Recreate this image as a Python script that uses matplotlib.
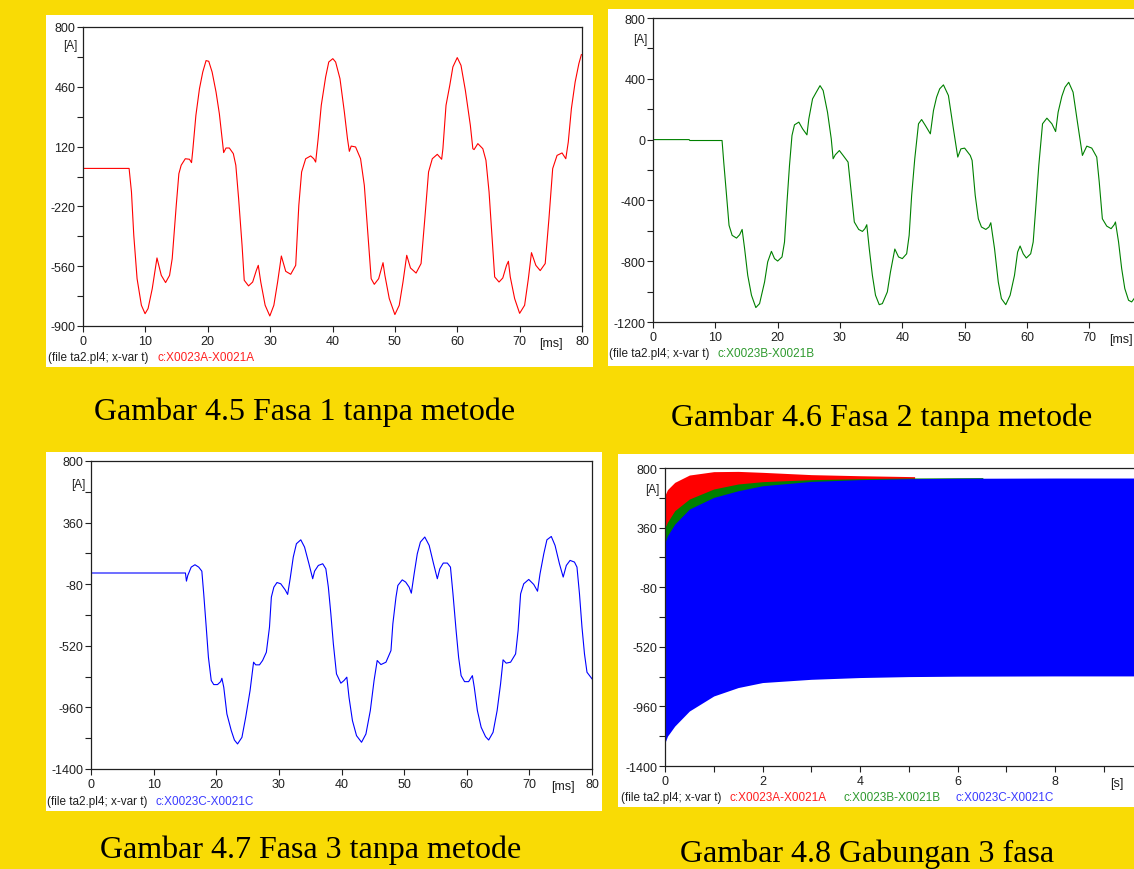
import numpy as np
import matplotlib.pyplot as plt
from matplotlib.patches import Rectangle

plt.rcParams['axes.unicode_minus'] = False
plt.rcParams['font.family'] = ['Liberation Sans', 'DejaVu Sans']

W, H = 1134, 870
BG = '#F9DB05'

# phase A current, (t [ms], i [A])
phase_a = [(0, -4), (7.39, -4), (7.77, -138), (8.14, -384), (8.67, -631), (9.36, -782),
           (9.95, -830), (10.43, -801), (11.1, -688), (11.86, -513), (12.55, -612), (13.24, -653),
           (13.88, -612), (14.3, -517), (14.95, -214), (15.37, -34), (15.74, 14), (16.4, 51),
           (17.07, 48), (17.4, 29), (17.6, 99), (18.1, 298), (18.67, 449), (19.2, 544),
           (19.73, 609), (20.16, 605), (20.7, 544), (21.33, 430), (21.86, 307), (22.3, 165),
           (22.55, 86), (22.93, 112), (23.46, 112), (24.1, 80), (24.5, 14), (24.95, -176),
           (25.5, -441), (25.85, -640), (26.54, -672), (27.2, -650), (27.8, -583), (28.1, -555),
           (28.5, -650), (29.2, -782), (29.95, -843), (30.6, -782), (31.2, -650), (31.8, -502),
           (32.5, -589), (33.3, -606), (34.1, -555), (34.6, -214), (35.05, -24), (35.7, 51),
           (36.5, 67), (37.0, 51), (37.3, 32), (37.7, 165), (38.2, 355), (38.9, 516),
           (39.4, 601), (40.05, 620), (40.5, 601), (41.2, 506), (41.9, 317), (42.4, 165),
           (42.7, 93), (43.0, 123), (43.7, 118), (44.5, 51), (45.1, -100), (45.65, -365),
           (46.2, -631), (46.7, -663), (47.4, -631), (48.1, -540), (48.4, -612), (49.1, -744),
           (50.0, -835), (50.7, -782), (51.3, -650), (51.9, -498), (52.5, -570), (53.4, -599),
           (54.2, -545), (54.8, -290), (55.4, -24), (56.0, 51), (56.8, 76), (57.5, 48),
           (57.7, 108), (58.2, 355), (58.8, 468), (59.3, 573), (60.0, 626), (60.6, 582),
           (61.3, 440), (62.1, 241), (62.5, 108), (62.7, 103), (63.3, 137), (64.1, 108),
           (64.6, 42), (65.1, -138), (65.6, -403), (66.0, -621), (66.7, -650), (67.3, -627),
           (67.9, -555), (68.2, -532), (68.5, -621), (69.2, -744), (70.0, -828), (70.8, -782),
           (71.4, -631), (71.9, -483), (72.6, -555), (73.3, -585), (74.1, -545), (74.7, -290),
           (75.3, -5), (76.0, 70), (76.8, 84), (77.4, 51), (77.8, 146), (78.3, 336),
           (78.9, 487), (79.5, 592), (79.9, 643)]

# phase B current, figure 4.6
phase_b = [(0, 0), (5.8, 0), (5.9, -6), (11.08, -6), (11.35, -148), (11.8, -367), (12.2, -564),
           (12.7, -630), (13.4, -648), (13.9, -626), (14.3, -591), (14.7, -718), (15.2, -893),
           (15.8, -1024), (16.5, -1105), (17.1, -1079), (17.9, -937), (18.4, -805), (19.0, -735),
           (19.5, -783), (20.0, -799), (20.7, -772), (21.1, -674), (21.5, -411), (21.9, -170),
           (22.3, 27), (22.7, 97), (23.4, 115), (24.0, 71), (24.7, 31), (25.0, 136),
           (25.6, 268), (26.2, 312), (26.8, 355), (27.3, 323), (28.0, 180), (28.6, 5),
           (28.9, -126), (29.25, -100), (29.9, -72), (30.5, -104), (31.3, -148), (31.8, -345),
           (32.3, -542), (33.0, -591), (33.6, -604), (34.0, -586), (34.3, -560), (34.7, -718),
           (35.2, -893), (35.7, -1024), (36.3, -1086), (36.8, -1079), (37.6, -1002), (38.1, -871),
           (38.8, -720), (39.4, -772), (40.0, -783), (40.7, -751), (41.1, -630), (41.5, -367),
           (42.0, -126), (42.6, 104), (43.1, 132), (43.7, 93), (44.5, 38), (45.0, 191),
           (45.5, 279), (46.0, 334), (46.6, 360), (47.4, 290), (48.2, 71), (48.9, -115),
           (49.4, -61), (50.0, -56), (50.9, -104), (51.2, -137), (51.7, -367), (52.2, -521),
           (52.7, -575), (53.4, -591), (53.9, -575), (54.2, -547), (54.8, -718), (55.4, -937),
           (55.9, -1046), (56.6, -1086), (57.3, -1024), (58.0, -893), (58.5, -740), (58.9, -700),
           (59.4, -751), (59.9, -779), (60.6, -751), (61.0, -674), (61.4, -455), (61.9, -170),
           (62.5, 104), (63.2, 141), (64.0, 104), (64.6, 53), (65.0, 180), (65.6, 285),
           (66.1, 344), (66.7, 377), (67.4, 312), (68.1, 115), (68.9, -104), (69.6, -43),
           (70.4, -56), (71.2, -115), (71.6, -280), (72.1, -521), (72.8, -569), (73.5, -586),
           (74.0, -560), (74.2, -542), (74.7, -674), (75.2, -849), (75.7, -980), (76.3, -1057),
           (76.8, -1068), (77.3, -1040)]

# phase C current, figure 4.7
phase_c = [(0, 0), (15.08, 0), (15.24, -58), (15.45, -18), (16.0, 42), (16.6, 59), (17.2, 42),
           (17.7, 13), (18.0, -149), (18.4, -387), (18.75, -602), (19.2, -768), (19.6, -797),
           (20.2, -797), (20.7, -776), (20.9, -752), (21.2, -816), (21.7, -1007), (22.4, -1126),
           (22.9, -1193), (23.4, -1221), (24.1, -1174), (24.7, -1031), (25.4, -840), (25.96, -637),
           (26.3, -656), (26.9, -656), (27.4, -625), (28.0, -566), (28.5, -387), (28.8, -172),
           (29.2, -101), (29.7, -68), (30.3, -77), (31.0, -120), (31.4, -153), (31.8, -41),
           (32.3, 114), (32.8, 209), (33.5, 237), (34.1, 185), (34.8, 66), (35.4, -41),
           (35.7, 13), (36.3, 54), (37.0, 66), (37.5, 30), (37.9, -101), (38.3, -292),
           (38.7, -506), (39.2, -721), (39.9, -787), (40.4, -768), (40.85, -744), (41.2, -888),
           (41.75, -1055), (42.4, -1162), (43.2, -1209), (43.9, -1150), (44.6, -983), (45.2, -768),
           (45.7, -625), (46.3, -654), (47.1, -637), (47.9, -554), (48.2, -363), (48.7, -172),
           (49.0, -89), (49.7, -49), (50.25, -65), (50.8, -101), (51.15, -144), (51.6, -6),
           (52.1, 137), (52.6, 221), (53.3, 257), (54.0, 197), (54.7, 66), (55.3, -41),
           (55.7, 30), (56.25, 71), (56.9, 71), (57.4, 42), (57.8, -149), (58.3, -411),
           (58.7, -602), (59.1, -733), (59.65, -776), (60.3, -776), (60.9, -733), (61.2, -816),
           (61.7, -983), (62.3, -1102), (63.0, -1169), (63.5, -1193), (64.2, -1138), (64.85, -983),
           (65.4, -792), (65.8, -620), (66.3, -644), (67.0, -637), (67.8, -578), (68.2, -411),
           (68.6, -149), (69.1, -77), (69.9, -46), (70.7, -82), (71.3, -130), (71.7, -6),
           (72.3, 137), (72.8, 237), (73.5, 261), (74.1, 197), (74.8, 66), (75.4, -29),
           (75.9, 54), (76.5, 90), (77.2, 78), (77.6, 42), (78.0, -149), (78.4, -387),
           (78.8, -578), (79.2, -709), (80.0, -756)]

# figure 4.8: envelopes of the 3 phases over 10 s (t [s])
env_t_a = [0, 0.05, 0.2, 0.5, 1.0, 1.5, 2.0, 3.0, 4.0, 5.12]
env_up_a = [600, 640, 694, 748, 773, 775, 768, 751, 743, 736]
env_lo_a = [-800, -800, -780, -760, -740, -730, -720, -710, -700, -700]
env_t_b = [0, 0.05, 0.2, 0.5, 1.0, 1.5, 2.0, 3.0, 4.0, 5.0, 6.52]
env_up_b = [361, 400, 485, 571, 645, 682, 699, 714, 721, 726, 729]
env_lo_b = [-800, -800, -780, -760, -740, -730, -720, -710, -700, -700, -700]
env_t_c = [0, 0.05, 0.2, 0.5, 1.0, 1.5, 2.0, 3.0, 4.0, 5.0, 6.0, 8.0, 10.0]
env_up_c = [250, 300, 386, 497, 583, 632, 669, 701, 714, 721, 724, 726, 726]
env_lo_c = [-1228, -1180, -1105, -994, -883, -821, -784, -760, -747, -740, -737, -735, -735]

labels = ['c:X0023A-X0021A', 'c:X0023B-X0021B', 'c:X0023C-X0021C']
colors = ['#FF0000', '#008000', '#0000FF']
text_colors = ['#FF2020', '#2E9A2E', '#3A3AFF']
captions = ['Gambar 4.5 Fasa 1 tanpa metode', 'Gambar 4.6 Fasa 2 tanpa metode',
            'Gambar 4.7 Fasa 3 tanpa metode', 'Gambar 4.8 Gabungan 3 fasa']


def frac(x0, y0, x1, y1):
    # pixel box, origin top-left -> figure fraction rect
    return [x0 / W, 1 - y1 / H, (x1 - x0) / W, (y1 - y0) / H]


def pt(x, y):
    return x / W, 1 - y / H


def emtp_axes(fig, box, xlim, ylim, ymajor, xmajor, xminor, unit, unit_x, a_frac, hide_last=False):
    ax = fig.add_axes(frac(*box))
    ax.set_xlim(xlim)
    ax.set_ylim(ylim)
    ax.set_yticks(ymajor)
    ymid = [(ymajor[k] + ymajor[k + 1]) / 2 for k in range(len(ymajor) - 1)]
    ax.set_yticks(ymid, minor=True)
    ax.set_xticks(xmajor)
    if xminor:
        ax.set_xticks(xminor, minor=True)
    ax.set_yticklabels([str(v) for v in ymajor])
    xl = [str(v) for v in xmajor]
    if hide_last:
        # this label falls off the page in the original
        xl[-1] = ''
    ax.set_xticklabels(xl)
    ax.tick_params(which='both', direction='out', length=4, width=0.8, color='#202020')
    ax.tick_params(axis='y', labelsize=9, pad=1.5, labelcolor='#202020')
    ax.tick_params(axis='x', labelsize=9, pad=2.5, labelcolor='#202020')
    for s in ax.spines.values():
        s.set_linewidth(0.9)
        s.set_color('#202020')
    ax.annotate('[A]', xy=(0, a_frac), xycoords='axes fraction', xytext=(-4, 0),
                textcoords='offset points', ha='right', va='center', fontsize=8.5,
                color='#202020')
    ax.annotate(unit, xy=(unit_x, 0), xycoords=('data', 'axes fraction'), xytext=(0, -12),
                textcoords='offset points', ha='center', va='center', fontsize=9,
                color='#202020')
    return ax


fig = plt.figure(figsize=(W / 100, H / 100), dpi=100, facecolor=BG)

# white panels behind each plot
for b in [(46, 16, 593, 368), (608, 10, 1134, 367), (46, 453, 602, 812), (618, 455, 1134, 808)]:
    l, bt, w, h = frac(*b)
    fig.add_artist(Rectangle((l, bt), w, h, transform=fig.transFigure, facecolor='white',
                             edgecolor='none', zorder=0))

# Fasa 1
ax1 = emtp_axes(fig, (83, 28, 582, 327), (0, 80), (-900, 800),
                [800, 460, 120, -220, -560, -900], list(range(0, 81, 10)), None,
                '[ms]', 75, 1 - 18 / 299)
ta, ia = zip(*phase_a)
ax1.plot(ta, ia, color=colors[0], lw=0.8)

# Fasa 2 (right edge runs off the page like the original)
ax2 = emtp_axes(fig, (653, 19, 1151.6, 323), (0, 80), (-1200, 800),
                [800, 400, 0, -400, -800, -1200], list(range(0, 81, 10)), None,
                '[ms]', 75, 1 - 21 / 304, hide_last=True)
tb, ib = zip(*phase_b)
ax2.plot(tb, ib, color=colors[1], lw=0.8)

# Fasa 3
ax3 = emtp_axes(fig, (91, 462, 592, 770), (0, 80), (-1400, 800),
                [800, 360, -80, -520, -960, -1400], list(range(0, 81, 10)), None,
                '[ms]', 75.4, 1 - 23 / 308)
tc, ic = zip(*phase_c)
ax3.plot(tc, ic, color=colors[2], lw=0.8)

# Gabungan 3 fasa
ax4 = emtp_axes(fig, (665, 469, 1152.5, 767), (0, 10), (-1400, 800),
                [800, 360, -80, -520, -960, -1400], [0, 2, 4, 6, 8, 10], [1, 3, 5, 7, 9],
                '[s]', 9.27, 1 - 21 / 298, hide_last=True)
ax4.fill_between(env_t_a, env_lo_a, env_up_a, color=colors[0], lw=0)
ax4.fill_between(env_t_b, env_lo_b, env_up_b, color=colors[1], lw=0)
ax4.fill_between(env_t_c, env_lo_c, env_up_c, color=colors[2], lw=0)

# footnotes
foot = '(file ta2.pl4; x-var t)'
fig.text(*pt(48, 358), foot, fontsize=8.5, color='#202020', va='center')
fig.text(*pt(157, 358), labels[0], fontsize=8.5, color=text_colors[0], va='center')
fig.text(*pt(609, 354), foot, fontsize=8.5, color='#202020', va='center')
fig.text(*pt(718, 354), labels[1], fontsize=8.5, color=text_colors[1], va='center')
fig.text(*pt(47, 802), foot, fontsize=8.5, color='#202020', va='center')
fig.text(*pt(156, 802), labels[2], fontsize=8.5, color=text_colors[2], va='center')
fig.text(*pt(621, 798), foot, fontsize=8.5, color='#202020', va='center')
for k, x in enumerate([730, 843, 955]):
    fig.text(*pt(x, 798), labels[k], fontsize=8.5, color=text_colors[k], va='center')

# captions
for cap, (x, y) in zip(captions, [(305, 412), (882, 418), (311, 850), (867, 854)]):
    fig.text(*pt(x, y), cap, fontsize=23, family='Liberation Serif', ha='center',
             va='center', color='black')

fig.savefig('out.png', dpi=100, facecolor=BG)
